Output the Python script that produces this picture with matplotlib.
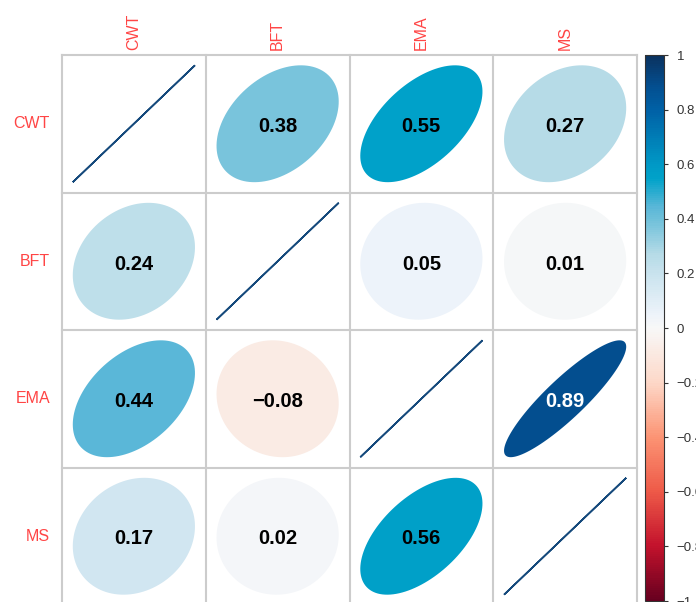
import numpy as np
import matplotlib
matplotlib.use("Agg")
import matplotlib.pyplot as plt
from matplotlib.patches import Polygon
from matplotlib.colors import LinearSegmentedColormap, Normalize
from matplotlib.cm import ScalarMappable

# Variables and the correlation matrix
labels = ["CWT", "BFT", "EMA", "MS"]
corr = np.array([
    [1.00, 0.38, 0.55, 0.27],
    [0.24, 1.00, 0.05, 0.01],
    [0.44, -0.08, 1.00, 0.89],
    [0.17, 0.02, 0.56, 1.00],
])
cbar_ticks = [-1, -0.8, -0.6, -0.4, -0.2, 0, 0.2, 0.4, 0.6, 0.8, 1]
cbar_labels = ["\u22121", "\u22120.8", "\u22120.6", "\u22120.4", "\u22120.2", "0",
               "0.2", "0.4", "0.6", "0.8", "1"]

# Colour ramp picked off the legend bar
anchors = [
    (-1.00, "#67001F"), (-0.80, "#C3122C"), (-0.60, "#EE5A48"), (-0.40, "#FC9474"),
    (-0.20, "#FDD8C8"), (0.00, "#F8F8F8"), (0.05, "#EDF3FA"), (0.20, "#C9E3EE"),
    (0.27, "#B6DBE7"), (0.40, "#6EC0DA"), (0.44, "#5DB8D8"), (0.55, "#00A2C9"),
    (0.60, "#0099C6"), (0.80, "#0061A6"), (0.89, "#034E8F"), (1.00, "#0A325F"),
]
cmap = LinearSegmentedColormap.from_list(
    "corr", [((v + 1) / 2, c) for v, c in anchors], N=256)
norm = Normalize(-1, 1)

plt.rcParams["font.family"] = ["Liberation Sans", "DejaVu Sans"]

fig = plt.figure(figsize=(6.96, 6.02), dpi=100)
W, H = 696, 602
ax = fig.add_axes([62 / W, (H - 605) / H, 575 / W, 550 / H])
n = len(labels)
ax.set_xlim(0, n)
ax.set_ylim(n, 0)
ax.axis("off")

# corrplot-style ellipses
t = np.linspace(0, 2 * np.pi, 120)
for i in range(n):
    for j in range(n):
        r = corr[i, j]
        a = np.arccos(np.clip(r, -1, 1))
        cx, cy = j + 0.5, i + 0.5
        xs = cx + 0.85 * np.cos(t + a / 2) / 2
        ys = cy - 0.85 * np.cos(t - a / 2) / 2
        col = cmap(norm(r))
        if i == j:
            ax.add_patch(Polygon(np.column_stack([xs, ys]), closed=True,
                                 facecolor=col, edgecolor="#164a7c", lw=1.2))
            continue
        ax.add_patch(Polygon(np.column_stack([xs, ys]), closed=True,
                             facecolor=col, edgecolor="none"))
        tc = "white" if abs(r) > 0.8 else "black"
        ax.text(cx, cy + 0.02, f"{r:.2f}".replace("-", "\u2212"), ha="center", va="center",
                fontsize=14.5, fontweight="bold", color=tc)

# grid
for k in range(n + 1):
    ax.plot([k, k], [0, n], color="#cccccc", lw=1.5, clip_on=False, zorder=0)
    ax.plot([0, n], [k, k], color="#cccccc", lw=1.5, clip_on=False, zorder=0)

# labels
for k, lab in enumerate(labels):
    ax.text(-12 / 143.75, k + 0.5, lab, ha="right", va="center",
            fontsize=11.5, color="#ff4545")
    ax.text(k + 0.5, -5 / 137.5, lab, ha="center", va="bottom", rotation=90,
            fontsize=11.5, color="#ff4545")

# colour legend
cax = fig.add_axes([645 / W, 1 / H, 19 / W, 546 / H])
cb = fig.colorbar(ScalarMappable(norm=norm, cmap=cmap), cax=cax, ticks=cbar_ticks)
cb.ax.set_yticklabels(cbar_labels)
cb.outline.set_edgecolor("#333333")
cb.outline.set_linewidth(0.8)
cb.ax.tick_params(length=3, width=0.8, color="#333333", labelsize=9.5,
                  labelcolor="#333333", pad=6)

fig.savefig("out.png", dpi=100)
